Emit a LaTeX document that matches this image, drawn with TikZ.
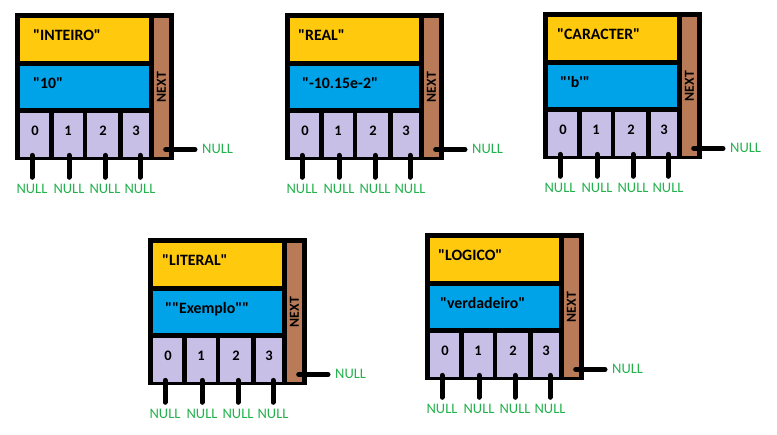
\documentclass[tikz,border=0pt]{standalone}
\usepackage{fontspec}
\newfontfamily\calfont{Carlito}
\definecolor{typeyellow}{HTML}{FFC90E}
\definecolor{valblue}{HTML}{00A2E8}
\definecolor{celllav}{HTML}{C8BFE7}
\definecolor{nextbrown}{HTML}{B97A57}
\definecolor{nullgreen}{HTML}{22B14C}
\tikzset{
  outerbox/.style={fill=black, draw=none, inner sep=0pt, anchor=north west, minimum width=159pt, minimum height=147pt},
  field/.style={draw=none, inner sep=0pt, anchor=north west},
  labeltext/.style={font=\calfont\bfseries\fontsize{15.8}{18}\selectfont, text=black, inner sep=0pt, text height=10pt, text depth=0pt, anchor=west},
  digit/.style={font=\calfont\bfseries\fontsize{14.5}{16}\selectfont, text=black, inner sep=0pt, text height=9pt, text depth=0pt},
  nexttext/.style={font=\calfont\bfseries\fontsize{13.8}{15}\selectfont, text=black, rotate=90, inner sep=0pt},
  nulltext/.style={font=\calfont\fontsize{14.5}{16}\selectfont, text=nullgreen, inner sep=1pt, text height=9pt, text depth=0pt},
  nullline/.style={line width=5pt, line cap=round, draw=black},
}
\newcommand\membox[7]{%
\begin{scope}[shift={(#2,#3)}]
\node[outerbox] (#1) at (0,0) {};
\node[field, fill=typeyellow, minimum width=129pt, minimum height=43pt] (#1type) at (5,5) {};
\node[field, fill=valblue, minimum width=129pt, minimum height=42pt] (#1val) at (5,53) {};
\node[field, fill=celllav, minimum width=29pt, minimum height=44pt] (#1c0) at (5,100) {};
\node[field, fill=celllav, minimum width=29pt, minimum height=44pt] (#1c1) at (39,100) {};
\node[field, fill=celllav, minimum width=31pt, minimum height=44pt] (#1c2) at (72,100) {};
\node[field, fill=celllav, minimum width=26pt, minimum height=44pt] (#1c3) at (108,100) {};
\node[field, fill=nextbrown, minimum width=15pt, minimum height=139pt] (#1next) at (139,5) {};
\node[labeltext] (#1typetext) at (#6,23) {#4};
\node[labeltext] (#1valtext) at (#7,71) {#5};
\node[digit] (#1d0) at (20,118) {0};
\node[digit] (#1d1) at (53,118) {1};
\node[digit] (#1d2) at (88,118) {2};
\node[digit] (#1d3) at (121,118) {3};
\node[nexttext] (#1nexttext) at (146.5,74) {NEXT};
\node[nulltext] (#1n0) at (17,176) {NULL};
\node[nulltext] (#1n1) at (54,176) {NULL};
\node[nulltext] (#1n2) at (90,176) {NULL};
\node[nulltext] (#1n3) at (125,176) {NULL};
\foreach \k in {0,1,2,3}{
  \draw[nullline] ([yshift=2pt]#1n\k.north |- #1c\k.south) -- ([yshift=6pt]#1n\k.north);
}
\node[nulltext, anchor=west] (#1nn) at (186,136.5) {NULL};
\draw[nullline] ([xshift=4pt]#1next.south |- #1nn.west) -- ([xshift=-6pt]#1nn.west);
\end{scope}}
\begin{document}
\begin{tikzpicture}[x=1pt, y=-1pt]
\useasboundingbox (0,0) rectangle (777,435);
\membox{a}{15}{13}{"INTEIRO"}{"10"}{18}{18}
\membox{b}{285}{13}{"REAL"}{"-10.15e-2"}{13}{17}
\membox{c}{543}{12}{"CARACTER"}{"'b'"}{14}{17}
\membox{d}{148}{238}{"LITERAL"}{""Exemplo""}{14}{17}
\membox{e}{425}{233}{"LOGICO"}{"verdadeiro"}{13}{15}
\end{tikzpicture}
\end{document}
